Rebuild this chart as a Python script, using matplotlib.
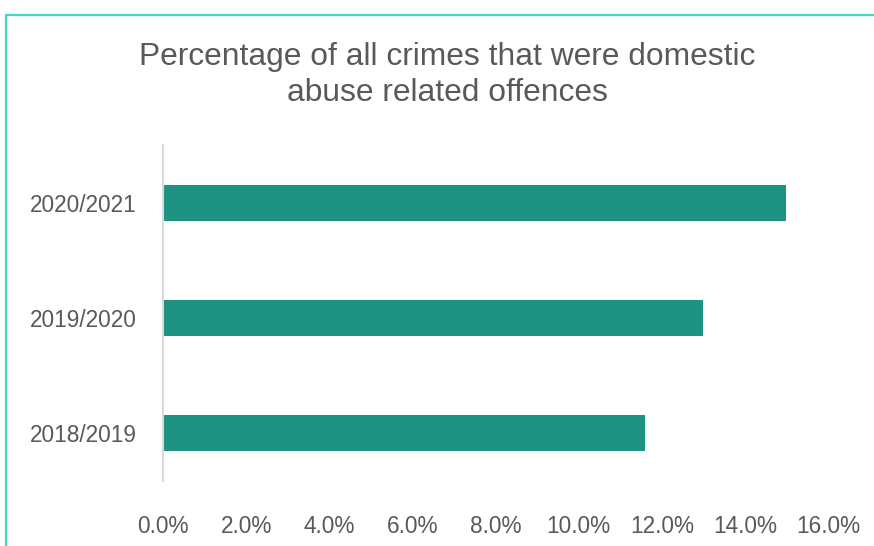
import matplotlib
matplotlib.use("Agg")
import matplotlib.pyplot as plt
from matplotlib.lines import Line2D
from matplotlib.ticker import FuncFormatter

years = ["2018/2019", "2019/2020", "2020/2021"]
pct_domestic = [11.6, 13.0, 15.0]
x_ticks = [0, 2, 4, 6, 8, 10, 12, 14, 16]

title = "Percentage of all crimes that were domestic\nabuse related offences"
bar_color = "#1f9382"
text_color = "#595959"
frame_color = "#3fd9c6"

plt.rcParams["font.family"] = ["Liberation Sans", "DejaVu Sans"]

W, H = 874, 546
fig = plt.figure(figsize=(W / 100, H / 100), dpi=100)
ax = fig.add_axes([163 / W, 55 / H, (828 - 163) / W, (491 - 145) / H])

ypos = list(range(len(years)))
ax.barh(ypos, pct_domestic, height=0.31, color=bar_color, zorder=2)

ax.set_xlim(0, 16)
ax.set_ylim(-0.5, len(years) - 0.5)
ax.set_xticks(x_ticks)
ax.xaxis.set_major_formatter(FuncFormatter(lambda v, _: f"{v:.1f}%"))
ax.set_yticks(ypos)
ax.set_yticklabels(years)

ax.tick_params(axis="both", length=0, labelsize=16.3, colors=text_color)
ax.tick_params(axis="x", pad=17)
ax.tick_params(axis="y", pad=19)

for side in ("top", "right", "bottom"):
    ax.spines[side].set_visible(False)
ax.spines["left"].set_color("#d9d9d9")
ax.spines["left"].set_linewidth(1.5)
ax.spines["left"].set_bounds(-0.413, len(years) - 0.5)

fig.text(447.5 / W, 1 - 42 / H, title, ha="center", va="top",
         fontsize=22.9, color=text_color, linespacing=1.27)

# outer chart frame (top and left edges)
fig.add_artist(Line2D([6 / W, 6 / W, 1.0], [0.0, 1 - 14.5 / H, 1 - 14.5 / H],
                      transform=fig.transFigure, color=frame_color, linewidth=1.6))

fig.savefig("out.png", dpi=100, facecolor="white")
